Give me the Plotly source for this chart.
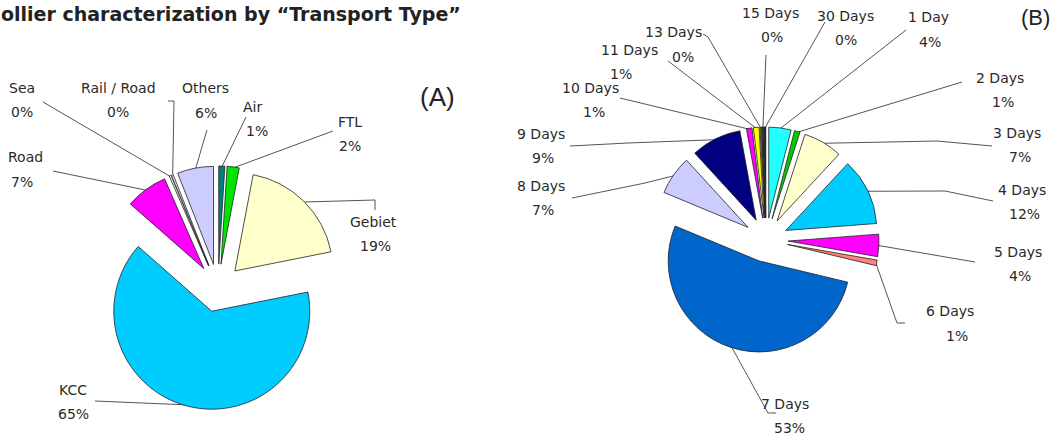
import math
import plotly.graph_objects as go

W, H = 1054, 435

# ---------------- data ----------------
a_labels = ["Air", "FTL", "Gebiet", "KCC", "Road", "Sea", "Rail / Road", "Others"]
a_values = [1, 2, 19, 65, 7, 0.3, 0.3, 6]
a_colors = ["#007F7F", "#00E600", "#FFFFCC", "#00CCFF", "#FF00FF", "#FFFFFF", "#FFFFFF", "#CCCCFF"]

b_labels = ["1 Day", "2 Days", "3 Days", "4 Days", "5 Days", "6 Days", "7 Days",
            "8 Days", "9 Days", "10 Days", "11 Days", "13 Days", "15 Days", "30 Days"]
b_values = [4, 1, 7, 12, 4, 1, 53, 7, 9, 1, 1, 0.3, 0.3, 0.3]
b_colors = ["#22FFFF", "#00CC00", "#FFFFCC", "#00CCFF", "#FF00FF", "#FF8080", "#0066CC",
            "#CCCCFF", "#000080", "#FF00FF", "#FFFF00", "#808000", "#333333", "#000000"]

title_text = "ollier characterization by \u201cTransport Type\u201d"

# ---------------- layout (pixel geometry) ----------------
A_GEOM = dict(cx=218, cy=288, r=98, pull=0.245)
B_GEOM = dict(cx=766, cy=240, r=91, pull=0.242)

# label name pos, pct pos, leader points (from label side toward slice)
A_LAB = {
    "Air": ((252, 107), (257, 131), [(246, 117)]),
    "FTL": ((350, 122), (350, 146), [(333, 131)]),
    "Gebiet": ((373, 222), (375, 246), [(375, 210), (375, 200)]),
    "KCC": ((73, 390), (73, 414), [(95, 401)]),
    "Road": ((25, 157), (22, 182), [(53, 171)]),
    "Sea": ((22, 88), (22, 112), [(43, 102)]),
    "Rail / Road": ((118, 88), (118, 112), [(168, 101), (174, 101)]),
    "Others": ((205, 88), (206, 113), [(207, 130)]),
}
B_LAB = {
    "1 Day": ((928, 17), (930, 42), [(906, 30)]),
    "2 Days": ((1000, 78), (1003, 102), [(962, 82)]),
    "3 Days": ((1017, 133), (1020, 157), [(992, 146), (937, 141)]),
    "4 Days": ((1022, 190), (1024, 214), [(993, 201), (945, 191)]),
    "5 Days": ((1018, 252), (1020, 276), [(975, 262)]),
    "6 Days": ((950, 311), (957, 336), [(905, 323), (897, 323)]),
    "7 Days": ((785, 404), (789, 428), [(776, 413), (768, 413)]),
    "8 Days": ((541, 186), (543, 210), [(572, 198), (645, 183)]),
    "9 Days": ((541, 134), (543, 158), [(570, 146), (628, 143)]),
    "10 Days": ((590, 88), (594, 112), [(620, 98)]),
    "11 Days": ((629, 50), (621, 74), [(668, 61)]),
    "13 Days": ((673, 32), (683, 57), [(703, 34), (708, 37)]),
    "15 Days": ((770, 13), (772, 37), [(766, 55)]),
    "30 Days": ((845, 16), (846, 40), [(825, 22)]),
}

TEXT_FONT = dict(family="DejaVu Sans", size=14, color="#2a2a2a")
LINE_COLOR = "#555555"


def pie_trace(labels, values, colors, g):
    half = g["r"] * (1 + g["pull"])
    return go.Pie(
        labels=labels, values=values, sort=False, direction="clockwise", rotation=0,
        marker=dict(colors=colors, line=dict(color="#222222", width=0.8)),
        pull=[g["pull"]] * len(values), textinfo="none", hoverinfo="skip",
        showlegend=False,
        domain=dict(x=[(g["cx"] - half) / W, (g["cx"] + half) / W],
                    y=[1 - (g["cy"] + half) / H, 1 - (g["cy"] - half) / H]),
    )


def leaders(labels, values, g, lab):
    total = sum(values)
    xs, ys, ann = [], [], []
    cum = 0.0
    for name, v in zip(labels, values):
        mid = (cum + v / 2) / total * 2 * math.pi
        cum += v
        rr = g["r"] * (1 + g["pull"]) - 1
        px = g["cx"] + rr * math.sin(mid)
        py = g["cy"] - rr * math.cos(mid)
        (nx, ny), (qx, qy), pts = lab[name]
        for (x, y) in pts:
            xs.append(x); ys.append(y)
        xs.append(px); ys.append(py)
        xs.append(None); ys.append(None)
        pct = f"{round(v / total * 100)}%"
        ann.append(dict(x=nx, y=ny, text=name, showarrow=False, xref="x", yref="y",
                        font=TEXT_FONT, xanchor="center", yanchor="middle"))
        ann.append(dict(x=qx, y=qy, text=pct, showarrow=False, xref="x", yref="y",
                        font=TEXT_FONT, xanchor="center", yanchor="middle"))
    return xs, ys, ann


fig = go.Figure()
xa, ya, anna = leaders(a_labels, a_values, A_GEOM, A_LAB)
xb, yb, annb = leaders(b_labels, b_values, B_GEOM, B_LAB)
fig.add_trace(go.Scatter(x=xa + xb, y=ya + yb, mode="lines",
                         line=dict(color=LINE_COLOR, width=1), hoverinfo="skip",
                         showlegend=False))
fig.add_trace(pie_trace(a_labels, a_values, a_colors, A_GEOM))
fig.add_trace(pie_trace(b_labels, b_values, b_colors, B_GEOM))

annotations = anna + annb
annotations.append(dict(x=-0.001, y=1 - 14 / H, xref="paper", yref="paper",
                        text="<b>" + title_text + "</b>",
                        showarrow=False, xanchor="left", yanchor="middle",
                        font=dict(family="DejaVu Sans", size=19, color="#222222")))
annotations.append(dict(x=437, y=97, xref="x", yref="y", text="(A)", showarrow=False,
                        xanchor="center", yanchor="middle",
                        font=dict(family="Liberation Sans", size=26, color="#222222")))
annotations.append(dict(x=1019 / W, y=1 - 18 / H, xref="paper", yref="paper", text="(B)",
                        showarrow=False, xanchor="left", yanchor="middle",
                        font=dict(family="Liberation Sans", size=22, color="#222222")))

fig.update_layout(
    width=W, height=H, margin=dict(l=0, r=0, t=0, b=0),
    paper_bgcolor="white", plot_bgcolor="white",
    xaxis=dict(range=[0, W], visible=False, fixedrange=True),
    yaxis=dict(range=[H, 0], visible=False, fixedrange=True),
    annotations=annotations,
)

fig.write_html("out.html", config={"displayModeBar": False},
               post_script="document.body.style.margin='0px';document.body.style.padding='0px';")
